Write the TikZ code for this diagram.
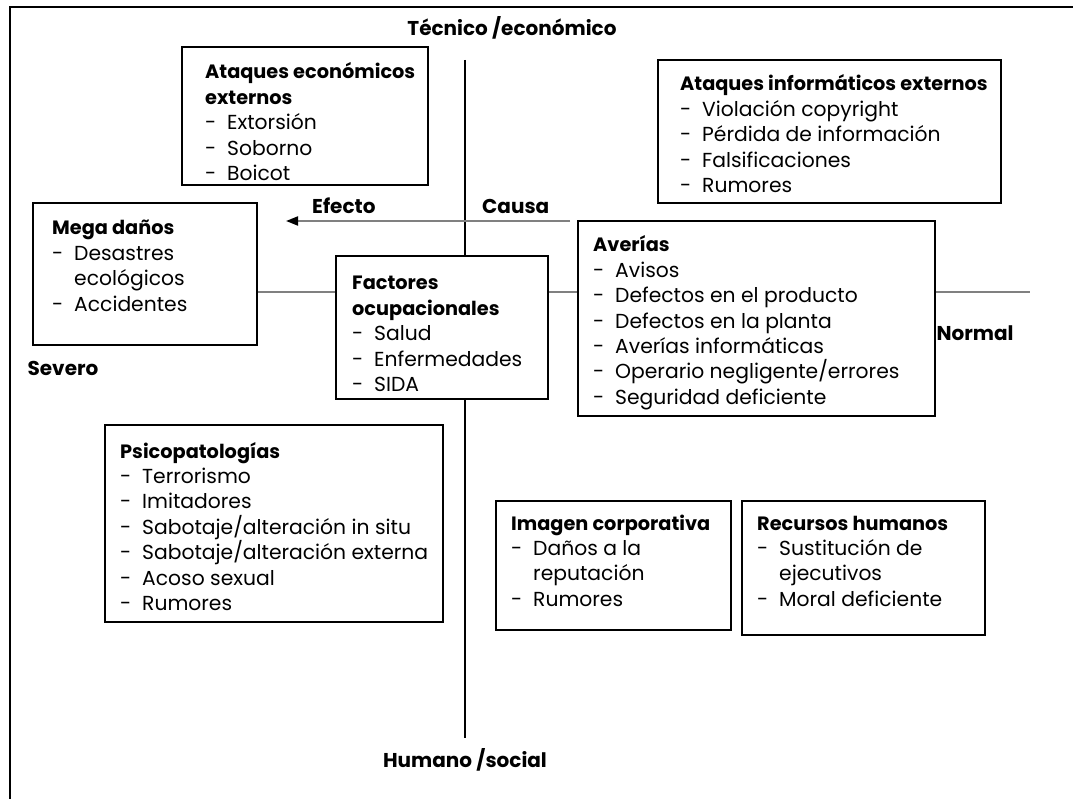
\documentclass[tikz,border=0pt]{standalone}
\usepackage{fontspec}
\setmainfont{Poppins}
\usetikzlibrary{arrows.meta}
\newcommand\hd[1]{\hbox{\fontsize{19.3}{25}\selectfont\bfseries #1}}
\newcommand\li[1]{\hbox{\makebox[22pt][l]{-}#1}}
\newcommand\lc[1]{\hbox{\hspace{22pt}#1}}
\newcommand\boxtext[1]{\vtop{\baselineskip=25.4pt #1}}
\tikzset{
  frame/.style={line width=2.5pt, black},
  box/.style={draw=black, line width=1.8pt, fill=white, anchor=north west, inner sep=0pt, outer sep=0pt},
  txt/.style={anchor=base west, inner sep=0pt, font=\fontsize{20.3}{25}\selectfont},
  lbl/.style={inner sep=0pt, font=\fontsize{20}{22}\selectfont\bfseries},
  vaxis/.style={line width=1.8pt, black},
  haxis/.style={line width=1.8pt, gray},
  arr/.style={line width=1.8pt, gray, -{Triangle[length=12pt,width=9pt,black]}}
}
\begin{document}
\begin{tikzpicture}[x=1pt,y=-1pt]
\useasboundingbox (0,0) rectangle (1073,799);
\fill[white] (0,0) rectangle (1073,799);
% frame
\draw[frame] (10,799) -- (10,7) -- (1073,7);
% axes
\coordinate (vtop) at (465,60);
\coordinate (vbot) at (465,738);
\coordinate (hl) at (257,292);
\coordinate (hr) at (1030,292);
\draw[vaxis] (vtop) -- (vbot);
\draw[haxis] (hl) -- (hr);
% arrow
\coordinate (acause) at (570,221);
\coordinate (aeffect) at (286,221);
\draw[arr] (acause) -- (aeffect);
% labels
\node[lbl] (tec) at (512,28) {Técnico /económico};
\node[lbl] (hum) at (465,760) {Humano /social};
\node[lbl] (sev) at (63,368) {Severo};
\node[lbl] (nor) at (975,333) {Normal};
\node[lbl, anchor=base west] (efe) at (312,214) {Efecto};
\node[lbl, anchor=base west] (cau) at (482,214) {Causa};
% boxes
\node[box, minimum width=246, minimum height=138] (econ) at (182,47) {};
\node[txt] (econ-t) at (205,79) {\boxtext{\hd{Ataques económicos}\hd{externos}\li{Extorsión}\li{Soborno}\li{Boicot}}};

\node[box, minimum width=343, minimum height=143] (info) at (658,60) {};
\node[txt] (info-t) at (680,91) {\boxtext{\hd{Ataques informáticos externos}\li{Violación copyright}\li{Pérdida de información}\li{Falsificaciones}\li{Rumores}}};

\node[box, minimum width=224, minimum height=142] (mega) at (33,203) {};
\node[txt] (mega-t) at (52,235) {\boxtext{\hd{Mega daños}\li{Desastres}\lc{ecológicos}\li{Accidentes}}};

\node[box, minimum width=212, minimum height=143] (fact) at (336,256) {};
\node[txt] (fact-t) at (352,290) {\boxtext{\hd{Factores}\hd{ocupacionales}\li{Salud}\li{Enfermedades}\li{SIDA}}};

\node[box, minimum width=357, minimum height=195] (aver) at (578,221) {};
\node[txt] (aver-t) at (593,252) {\boxtext{\hd{Averías}\li{Avisos}\li{Defectos en el producto}\li{Defectos en la planta}\li{Averías informáticas}\li{Operario negligente/errores}\li{Seguridad deficiente}}};

\node[box, minimum width=338, minimum height=197] (psi) at (105,425) {};
\node[txt] (psi-t) at (120,458) {\boxtext{\hd{Psicopatologías}\li{Terrorismo}\li{Imitadores}\li{Sabotaje/alteración in situ}\li{Sabotaje/alteración externa}\li{Acoso sexual}\li{Rumores}}};

\node[box, minimum width=235, minimum height=129] (img) at (496,501) {};
\node[txt] (img-t) at (511,530) {\boxtext{\hd{Imagen corporativa}\li{Daños a la}\lc{reputación}\li{Rumores}}};

\node[box, minimum width=243, minimum height=134] (rrhh) at (742,501) {};
\node[txt] (rrhh-t) at (757,530) {\boxtext{\hd{Recursos humanos}\li{Sustitución de}\lc{ejecutivos}\li{Moral deficiente}}};
\end{tikzpicture}
\end{document}
